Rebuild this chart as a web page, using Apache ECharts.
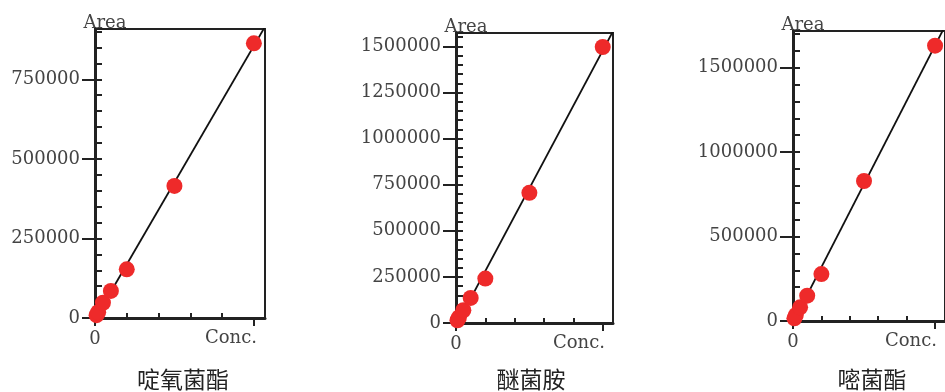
<!DOCTYPE html>
<html>
<head>
<meta charset="utf-8">
<script src="https://cdn.jsdelivr.net/npm/echarts@6/dist/echarts.min.js"></script>
<style>
  html, body { margin: 0; padding: 0; background: #fff; }
  #chart { width: 945px; height: 392px; }
</style>
</head>
<body>
<div id="chart"></div>
<script>
// Calibration standards: concentration levels (mg/L) and peak areas
const conc = [0.01, 0.02, 0.05, 0.1, 0.2, 0.5, 1.0];
const areaPicoxystrobin = [9000, 18000, 48000, 85000, 153000, 415000, 863000];
const areaDimoxystrobin = [15000, 30000, 69000, 136000, 241000, 706000, 1497000];
const areaAzoxystrobin = [16000, 35000, 81000, 150000, 278000, 829000, 1630000];

const names = ['啶氧菌酯', '醚菌胺', '嘧菌酯'];

// Axis ticks
const xMajorTicks = [0, 1];
const xMinorTicks = [0.2, 0.4, 0.6, 0.8];
const xLabelTicks = [0];
const yTicksPicox = [0, 250000, 500000, 750000];
const yTicksDimox = [0, 250000, 500000, 750000, 1000000, 1250000, 1500000];
const yTicksAzox = [0, 500000, 1000000, 1500000];
const yMinorStep = [50000, 50000, 100000];
const yMax = [908000, 1573000, 1717000];
const xMax = 1.07;

const panels = [
  { area: areaPicoxystrobin, yTicks: yTicksPicox, grid: { left: 95, right: 680, top: 29, bottom: 74 }, titleX: 183 },
  { area: areaDimoxystrobin, yTicks: yTicksDimox, grid: { left: 456, right: 332, top: 33, bottom: 69 }, titleX: 531 },
  { area: areaAzoxystrobin, yTicks: yTicksAzox, grid: { left: 793, right: -6, top: 31, bottom: 71 }, titleX: 872 }
];

// least-squares line through the standards
function fitLine(xs, ys) {
  const n = xs.length;
  const mx = xs.reduce((a, b) => a + b, 0) / n;
  const my = ys.reduce((a, b) => a + b, 0) / n;
  let sxy = 0, sxx = 0;
  for (let i = 0; i < n; i++) {
    sxy += (xs[i] - mx) * (ys[i] - my);
    sxx += (xs[i] - mx) * (xs[i] - mx);
  }
  const k = sxy / sxx;
  return { k: k, b: my - k * mx };
}

const FONT = 'DejaVu Serif';
const FONT_SIZE = 18;
const AXIS_COLOR = '#222';
const TEXT_COLOR = '#444';

const grid = [], xAxis = [], yAxis = [], series = [], title = [];

panels.forEach((p, i) => {
  grid.push(Object.assign({ show: true, borderColor: AXIS_COLOR, borderWidth: 2, backgroundColor: 'transparent' }, p.grid));

  const minorY = [];
  for (let v = 0; v <= yMax[i]; v += yMinorStep[i]) minorY.push(v);

  // x axis: main line, long ticks, "0" label and axis name
  xAxis.push({
    type: 'value', gridIndex: i, min: 0, max: xMax,
    axisLine: { show: true, onZero: false, lineStyle: { color: AXIS_COLOR, width: 3 } },
    axisTick: { show: true, customValues: xMajorTicks, length: 8, lineStyle: { color: AXIS_COLOR, width: 2 } },
    axisLabel: { show: true, customValues: xLabelTicks, margin: 12, fontFamily: FONT, fontSize: FONT_SIZE, color: TEXT_COLOR, formatter: v => String(v) },
    splitLine: { show: false },
    name: 'Conc.', nameLocation: 'end', nameGap: -8,
    nameTextStyle: { fontFamily: FONT, fontSize: FONT_SIZE, color: TEXT_COLOR, align: 'right', verticalAlign: 'top', padding: [11, 0, 0, 0] }
  });
  // x axis: short ticks
  xAxis.push({
    type: 'value', gridIndex: i, min: 0, max: xMax,
    axisLine: { show: false },
    axisTick: { show: true, customValues: xMinorTicks, length: 5, lineStyle: { color: AXIS_COLOR, width: 2 } },
    axisLabel: { show: false },
    splitLine: { show: false }
  });

  // y axis: main line, labelled ticks and axis name
  yAxis.push({
    type: 'value', gridIndex: i, min: 0, max: yMax[i],
    axisLine: { show: true, onZero: false, lineStyle: { color: AXIS_COLOR, width: 3 } },
    axisTick: { show: true, customValues: p.yTicks, length: 13, lineStyle: { color: AXIS_COLOR, width: 2 } },
    axisLabel: { show: true, customValues: p.yTicks, margin: 15, fontFamily: FONT, fontSize: FONT_SIZE, color: TEXT_COLOR, formatter: v => String(v) },
    splitLine: { show: false },
    name: 'Area', nameLocation: 'end', nameGap: -3,
    nameTextStyle: { fontFamily: FONT, fontSize: FONT_SIZE, color: TEXT_COLOR, align: 'center', verticalAlign: 'bottom', padding: [0, 0, 0, 20] }
  });
  // y axis: minor ticks
  yAxis.push({
    type: 'value', gridIndex: i, min: 0, max: yMax[i],
    axisLine: { show: false },
    axisTick: { show: true, customValues: minorY, length: 7, lineStyle: { color: AXIS_COLOR, width: 2 } },
    axisLabel: { show: false },
    splitLine: { show: false }
  });

  const fit = fitLine(conc, p.area);
  series.push({
    type: 'line', xAxisIndex: 2 * i, yAxisIndex: 2 * i,
    data: [[0, fit.b], [xMax, fit.k * xMax + fit.b]],
    showSymbol: false, silent: true, clip: true,
    lineStyle: { color: '#111', width: 1.8 }, z: 2
  });
  series.push({
    type: 'scatter', xAxisIndex: 2 * i, yAxisIndex: 2 * i,
    data: conc.map((c, j) => [c, p.area[j]]),
    symbol: 'circle', symbolSize: 16, clip: false,
    itemStyle: { color: '#EE2A2A', opacity: 1 }, z: 3
  });

  title.push({
    text: names[i], left: p.titleX, top: 368, textAlign: 'center', padding: 0,
    textStyle: { fontFamily: 'Noto Sans CJK SC', fontSize: 23, fontWeight: 'normal', color: '#222' }
  });
});

const chart = echarts.init(document.getElementById('chart'), null, { renderer: 'canvas' });
chart.setOption({
  animation: false,
  backgroundColor: '#fff',
  title: title,
  grid: grid,
  xAxis: xAxis,
  yAxis: yAxis,
  series: series
});
</script>
</body>
</html>
